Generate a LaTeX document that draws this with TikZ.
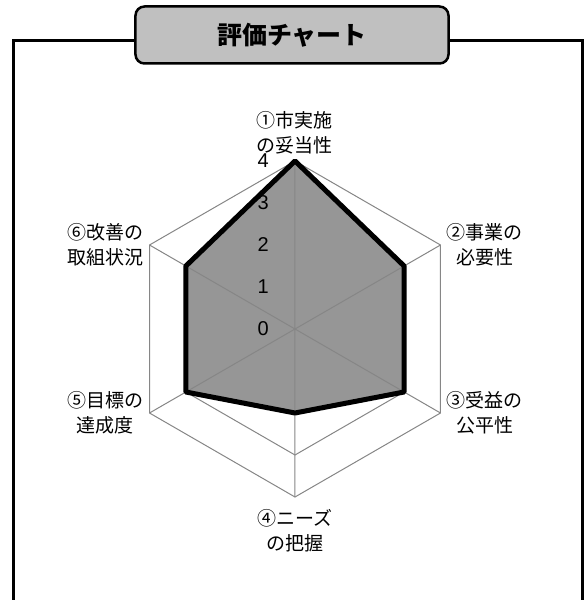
\documentclass[tikz,border=0pt]{standalone}
\usepackage{fontspec}
\setmainfont{Liberation Sans}
\newfontfamily\jp{Noto Sans CJK JP}
\usetikzlibrary{positioning}
\definecolor{gridgray}{RGB}{134,134,134}
\definecolor{areagray}{RGB}{150,150,150}
\definecolor{titlegray}{RGB}{192,192,192}

\begin{document}
\begin{tikzpicture}[x=1pt, y=1pt,
    grid/.style={draw=gridgray, line width=1pt},
    area/.style={fill=areagray},
    series/.style={draw=black, line width=5pt, line join=bevel},
    frame/.style={draw=black, line width=3pt},
    titlebox/.style={draw=black, line width=2.5pt, fill=titlegray, rounded corners=9pt,
        minimum width=313pt, minimum height=57pt, font=\jp\bfseries\fontsize{25}{30}\selectfont},
    axis/.style={align=center, inner sep=0pt, font=\jp\fontsize{19}{25}\selectfont},
    tick/.style={anchor=east, inner sep=0pt, font=\fontsize{20}{24}\selectfont}]
    \useasboundingbox (-295,-271) rectangle (289,329);
    % outer frame and title
    \coordinate (fbl) at (-281,-280);
    \coordinate (ftl) at (-281,288);
    \coordinate (ftr) at (287,288);
    \coordinate (fbr) at (287,-280);
    \draw[frame] (fbl) -- (ftl) -- (ftr) -- (fbr);
    \node[titlebox] (title) at (-3,294) {評価チャート};
    % axes
    \coordinate (o) at (0,0);
    \coordinate (a1) at (90:168);
    \coordinate (a2) at (30:168);
    \coordinate (a3) at (-30:168);
    \coordinate (a4) at (-90:168);
    \coordinate (a5) at (-150:168);
    \coordinate (a6) at (150:168);
    % values
    \coordinate (d1) at (90:168);
    \coordinate (d2) at (30:126);
    \coordinate (d3) at (-30:126);
    \coordinate (d4) at (-90:84);
    \coordinate (d5) at (-150:126);
    \coordinate (d6) at (150:126);
    \draw[grid] (90:42) -- (30:42) -- (-30:42) -- (-90:42) -- (-150:42) -- (150:42) -- cycle;
    \draw[grid] (90:84) -- (30:84) -- (-30:84) -- (-90:84) -- (-150:84) -- (150:84) -- cycle;
    \draw[grid] (90:126) -- (30:126) -- (-30:126) -- (-90:126) -- (-150:126) -- (150:126) -- cycle;
    \draw[grid] (a1) -- (a2) -- (a3) -- (a4) -- (a5) -- (a6) -- cycle;
    \fill[area] (d1) -- (d2) -- (d3) -- (d4) -- (d5) -- (d6) -- cycle;
    \draw[grid] (a1) -- (a4) (a2) -- (a5) (a3) -- (a6);
    \draw[series] (d1) -- (d2) -- (d3) -- (d4) -- (d5) -- (d6) -- cycle;
    % scale
    \node[tick] (t0) at (-26,0) {0};
    \node[tick] (t1) at (-26,42) {1};
    \node[tick] (t2) at (-26,84) {2};
    \node[tick] (t3) at (-26,126) {3};
    \node[tick] (t4) at (-26,168) {4};
    % categories
    \node[axis, above=7pt of a1] (c1) {①市実施\\の妥当性};
    \node[axis, right=6pt of a2] (c2) {②事業の\\必要性};
    \node[axis, right=6pt of a3] (c3) {③受益の\\公平性};
    \node[axis, below=12pt of a4] (c4) {④ニーズ\\の把握};
    \node[axis, left=6pt of a5] (c5) {⑤目標の\\達成度};
    \node[axis, left=6pt of a6] (c6) {⑥改善の\\取組状況};
\end{tikzpicture}
\end{document}
